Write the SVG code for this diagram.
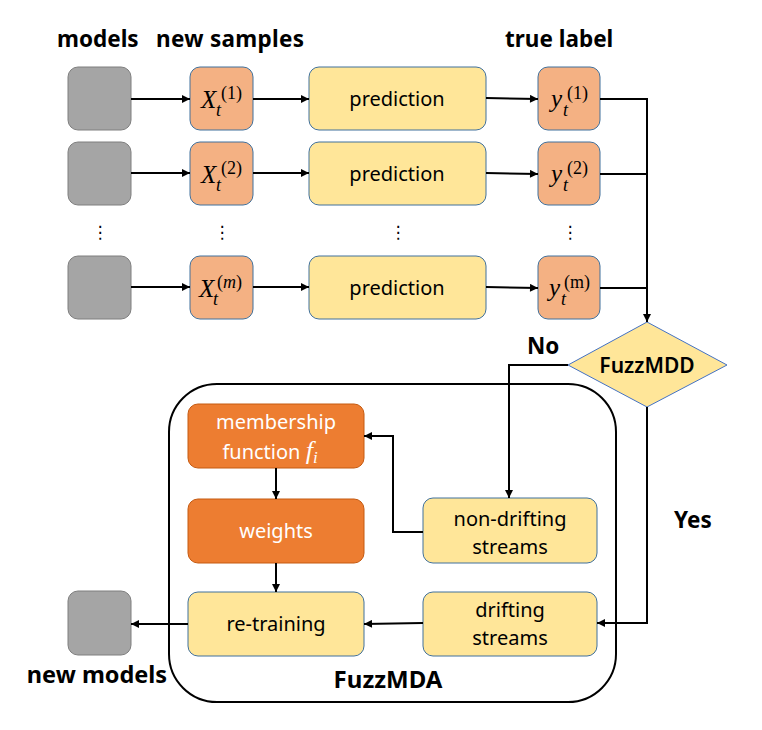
<svg xmlns="http://www.w3.org/2000/svg" width="762" height="730" viewBox="0 0 762 730">
<defs>
<marker id="arr" viewBox="0 0 10 10" refX="10" refY="5" markerWidth="9" markerHeight="8" markerUnits="userSpaceOnUse" orient="auto">
<path d="M0,0 L10,5 L0,10 z" fill="#000"/>
</marker>
<style>
.gray{fill:#A5A5A5;stroke:#7F7F7F;stroke-width:1}
.org{fill:#F4B183;stroke:#41719C;stroke-width:1}
.yel{fill:#FFE699;stroke:#41719C;stroke-width:1}
.dorg{fill:#ED7D31;stroke:#C55A11;stroke-width:1}
.hdr{font-family:"Noto Sans","Liberation Sans",sans-serif;font-weight:bold;font-size:22.5px;fill:#000}
.lbl{font-family:"Noto Sans","Liberation Sans",sans-serif;font-size:20px;fill:#000;text-anchor:middle}
.wht{fill:#fff}
.math{font-family:"Liberation Serif","DejaVu Serif",serif;font-style:italic;fill:#000}
.up{font-style:normal}
.dots{font-family:"DejaVu Sans",sans-serif;font-size:17px;fill:#000;text-anchor:middle}
.ln{fill:none;stroke:#000;stroke-width:2}
.ar{marker-end:url(#arr)}
</style>
</defs>
<rect width="762" height="730" fill="#fff"/>

<g id="headers">
<text class="hdr" x="57" y="47">models</text>
<text class="hdr" x="156" y="47" textLength="148">new samples</text>
<text class="hdr" x="505" y="47">true label</text>
</g>

<g id="model1"><rect class="gray" x="68" y="67" width="63" height="63" rx="10"/></g>
<g id="model2"><rect class="gray" x="68" y="142" width="63" height="63" rx="10"/></g>
<g id="modelm"><rect class="gray" x="68" y="256" width="63" height="63" rx="10"/></g>

<g id="x1"><rect class="org" x="190" y="67" width="63" height="63" rx="10"/>
<text class="math" x="201" y="108" font-size="25">X</text>
<text class="math" x="216" y="116" font-size="18">t</text>
<text class="math up" x="221" y="99" font-size="18">(1)</text></g>
<g id="x2"><rect class="org" x="190" y="142" width="63" height="63" rx="10"/>
<text class="math" x="201" y="183" font-size="25">X</text>
<text class="math" x="216" y="191" font-size="18">t</text>
<text class="math up" x="221" y="174" font-size="18">(2)</text></g>
<g id="xm"><rect class="org" x="190" y="256" width="63" height="63" rx="10"/>
<text class="math" x="199" y="297" font-size="25">X</text>
<text class="math" x="213" y="305" font-size="18">t</text>
<text class="math" x="217" y="288" font-size="18"><tspan class="up">(</tspan>m<tspan class="up">)</tspan></text></g>

<g id="pred1"><rect class="yel" x="309" y="67" width="177" height="63" rx="10"/><text class="lbl" x="397" y="106">prediction</text></g>
<g id="pred2"><rect class="yel" x="309" y="142" width="177" height="63" rx="10"/><text class="lbl" x="397" y="181">prediction</text></g>
<g id="predm"><rect class="yel" x="309" y="256" width="177" height="63" rx="10"/><text class="lbl" x="397" y="295">prediction</text></g>

<g id="y1"><rect class="org" x="538" y="67" width="62" height="63" rx="10"/>
<text class="math" x="551" y="107" font-size="25">y</text>
<text class="math" x="563" y="116" font-size="18">t</text>
<text class="math up" x="567" y="99" font-size="18">(1)</text></g>
<g id="y2"><rect class="org" x="538" y="142" width="62" height="63" rx="10"/>
<text class="math" x="551" y="182" font-size="25">y</text>
<text class="math" x="563" y="191" font-size="18">t</text>
<text class="math up" x="567" y="174" font-size="18">(2)</text></g>
<g id="ym"><rect class="org" x="538" y="256" width="62" height="63" rx="10"/>
<text class="math" x="549" y="296" font-size="25">y</text>
<text class="math" x="561" y="305" font-size="18">t</text>
<text class="math up" x="564" y="288" font-size="18">(m)</text></g>

<g id="ellipsis">
<text class="dots" x="100" y="238">⋮</text>
<text class="dots" x="222" y="238">⋮</text>
<text class="dots" x="398" y="238">⋮</text>
<text class="dots" x="570" y="238">⋮</text>
</g>

<g id="fuzzmdd">
<polygon points="647,322 727,365 647,407 568,365" fill="#FFE699" stroke="#4472C4" stroke-width="1"/>
<text class="hdr" x="647" y="373" text-anchor="middle" style="font-size:21px;font-weight:600">FuzzMDD</text>
</g>

<g id="fuzzmda">
<rect x="169" y="384" width="447" height="318" rx="48" fill="none" stroke="#000" stroke-width="2"/>
<text class="hdr" x="388" y="688" text-anchor="middle" style="font-size:24px">FuzzMDA</text>
</g>

<g id="membership"><rect class="dorg" x="188" y="404" width="176" height="64" rx="10"/>
<text class="lbl wht" x="276" y="429">membership</text>
<text class="lbl wht" x="270" y="459">function <tspan font-family="Liberation Serif,serif" font-style="italic" font-size="26">f</tspan><tspan font-family="Liberation Serif,serif" font-style="italic" font-size="17" dy="4">i</tspan></text></g>
<g id="weights"><rect class="dorg" x="188" y="499" width="176" height="64" rx="10"/>
<text class="lbl wht" x="276" y="538">weights</text></g>
<g id="nondrift"><rect class="yel" x="423" y="498" width="174" height="65" rx="10"/>
<text class="lbl" x="510" y="526">non-drifting</text>
<text class="lbl" x="510" y="554">streams</text></g>
<g id="drift"><rect class="yel" x="423" y="592" width="174" height="64" rx="10"/>
<text class="lbl" x="510" y="617">drifting</text>
<text class="lbl" x="510" y="645">streams</text></g>
<g id="retrain"><rect class="yel" x="188" y="592" width="176" height="64" rx="10"/>
<text class="lbl" x="276" y="631">re-training</text></g>
<g id="newmodels"><rect class="gray" x="68" y="591" width="63" height="64" rx="10"/>
<text class="hdr" x="97" y="683" text-anchor="middle" style="font-size:23.5px">new models</text></g>

<g id="labels">
<text class="hdr" x="527" y="354">No</text>
<text class="hdr" x="674" y="528">Yes</text>
</g>

<g id="connectors">
<path class="ln ar" d="M131,99 H190"/>
<path class="ln ar" d="M253,99 H309"/>
<path class="ln ar" d="M486,98 L538,99"/>
<path class="ln ar" d="M131,173 H190"/>
<path class="ln ar" d="M253,173 H309"/>
<path class="ln ar" d="M486,173 L538,174"/>
<path class="ln ar" d="M131,287 H190"/>
<path class="ln ar" d="M253,287 H309"/>
<path class="ln ar" d="M486,287 L538,288"/>
<path class="ln" d="M600,99 H647"/>
<path class="ln" d="M600,174 H647"/>
<path class="ln" d="M600,288 H647"/>
<path class="ln ar" d="M647,98 V322"/>
<path class="ln ar" d="M568,365 H509 V498"/>
<path class="ln ar" d="M423,532 H393 V436 H364"/>
<path class="ln ar" d="M276,468 V499"/>
<path class="ln ar" d="M276,563 V592"/>
<path class="ln ar" d="M647,407 V623 H597"/>
<path class="ln ar" d="M423,623 L364,624"/>
<path class="ln ar" d="M188,624 H131"/>
</g>
</svg>
